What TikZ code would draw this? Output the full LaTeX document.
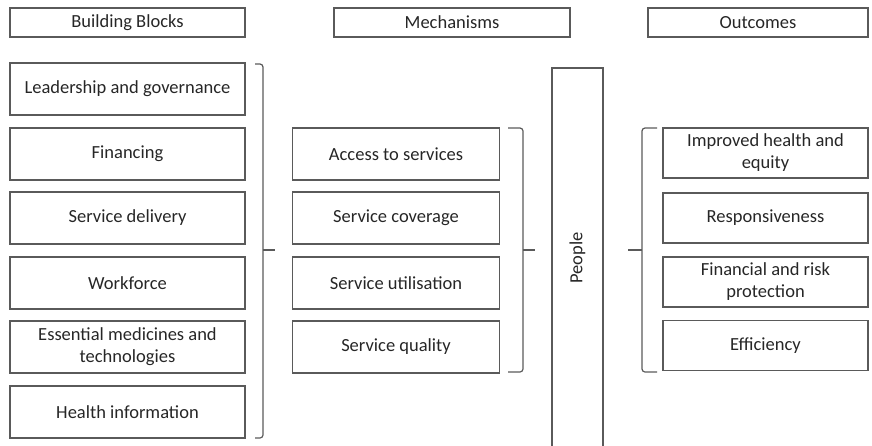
\documentclass[tikz,border=0pt]{standalone}
\usepackage{fontspec}
\setmainfont{Carlito}
\definecolor{edge}{HTML}{5A5A5A}
\definecolor{ink}{HTML}{262626}
\tikzset{
  box/.style={draw=edge, line width=1.2pt, rectangle, inner sep=0pt, text=ink, font=\fontsize{18.5}{22}\selectfont, align=center},
  brace/.style={draw=edge, line width=1.2pt, rounded corners=3pt}
}
\begin{document}
\begin{tikzpicture}[x=1pt,y=-1pt]
\useasboundingbox (0,0) rectangle (872,445);
\clip (0,0) rectangle (872,445);
% headers
\node[box, minimum width=235, minimum height=29] (hb) at (127.5,22.5) {Building Blocks};
\node[box, minimum width=236, minimum height=29] (hm) at (452,22.5) {Mechanisms};
\node[box, minimum width=220, minimum height=29] (ho) at (758,22.5) {Outcomes};
% building blocks
\node[box, minimum width=235, minimum height=52] (b1) at (127.5,89) {Leadership and governance};
\node[box, minimum width=235, minimum height=52] (b2) at (127.5,154) {Financing};
\node[box, minimum width=235, minimum height=52] (b3) at (127.5,218) {Service delivery};
\node[box, minimum width=235, minimum height=52] (b4) at (127.5,283) {Workforce};
\node[box, minimum width=235, minimum height=52] (b5) at (127.5,347) {Essential medicines and\\technologies};
\node[box, minimum width=235, minimum height=52] (b6) at (127.5,412) {Health information};
% mechanisms
\node[box, minimum width=207, minimum height=52] (m1) at (396,154) {Access to services};
\node[box, minimum width=207, minimum height=52] (m2) at (396,218) {Service coverage};
\node[box, minimum width=207, minimum height=52] (m3) at (396,283) {Service utilisation};
\node[box, minimum width=207, minimum height=52] (m4) at (396,347) {Service quality};
% people
\node[box, minimum width=51, minimum height=400] (pp) at (577.5,268) {};
\node[text=ink, font=\fontsize{18.5}{22}\selectfont, rotate=90] (pt) at (577.5,258) {People};
% outcomes
\node[box, minimum width=205, minimum height=50] (o1) at (765.5,153) {Improved health and\\equity};
\node[box, minimum width=205, minimum height=50] (o2) at (765.5,218) {Responsiveness};
\node[box, minimum width=205, minimum height=50] (o3) at (765.5,282) {Financial and risk\\protection};
\node[box, minimum width=205, minimum height=50] (o4) at (765.5,345.5) {Efficiency};
% braces
\draw[brace] (255,64) -| (263,250) -- (263,438) -- (255,438);
\draw[edge, line width=1.2pt] (263,250) -- (275,250);
\draw[brace] (508,128) -| (523,250) -- (523,372) -- (508,372);
\draw[edge, line width=1.2pt] (523,250) -- (535,250);
\draw[brace] (657,128) -| (642,250) -- (642,372) -- (657,372);
\draw[edge, line width=1.2pt] (642,250) -- (628,250);
\end{tikzpicture}
\end{document}
